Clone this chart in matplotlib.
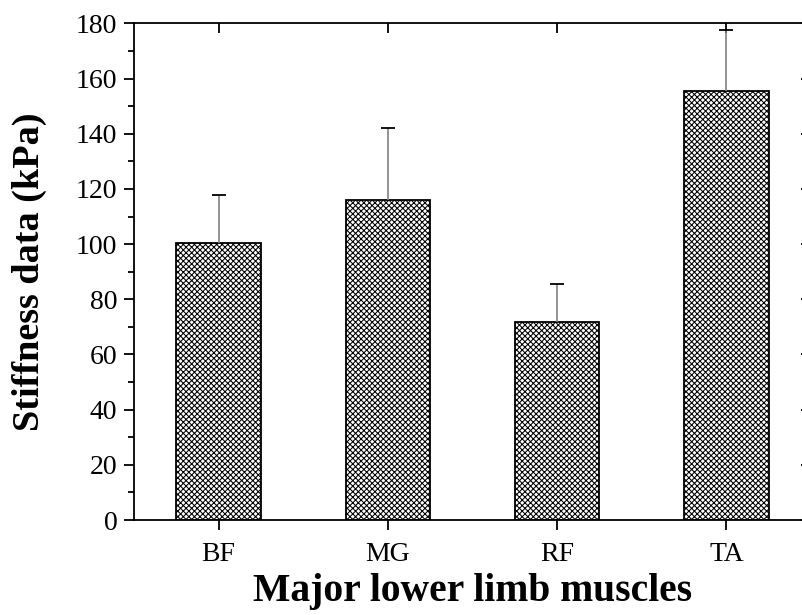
import matplotlib
matplotlib.use("Agg")
import matplotlib.pyplot as plt
from matplotlib.ticker import MultipleLocator

categories = ["BF", "MG", "RF", "TA"]
means = [100.4, 116.1, 71.7, 155.4]
upper = [117.9, 142.2, 85.6, 177.8]
yticks = [0, 20, 40, 60, 80, 100, 120, 140, 160, 180]

plt.rcParams['font.family'] = ['Liberation Serif', 'DejaVu Serif']
plt.rcParams['hatch.linewidth'] = 0.75
plt.rcParams['hatch.color'] = '#404040'

fig = plt.figure(figsize=(8.03, 6.15), dpi=100)
ax = fig.add_axes([134/803, 95/615, (811-134)/803, (520-23.5)/615])

x = list(range(1, len(categories) + 1))
errs = [u - m for u, m in zip(upper, means)]
ax.bar(x, means, width=0.5, color='white', edgecolor='black', linewidth=1.3,
       hatch='xxxxxx', zorder=2)
ax.errorbar(x, means, yerr=[[0]*len(errs), errs], fmt='none', ecolor='#808080',
            elinewidth=1.2, capsize=0, zorder=3)
ax.plot(x, upper, linestyle='none', marker='_', markersize=10, color='black',
        markeredgewidth=1.3, zorder=4)

ax.set_xlim(0.5, 4.5)
ax.set_ylim(0, 180)
ax.set_xticks(x)
ax.set_xticklabels(categories)
ax.set_yticks(yticks)
ax.yaxis.set_minor_locator(MultipleLocator(10))

for s in ax.spines.values():
    s.set_linewidth(1.3)

ax.tick_params(axis='y', which='major', direction='out', length=7, width=1.3,
               labelsize=20, pad=5, right=True)
ax.tick_params(axis='y', which='minor', direction='out', length=4, width=1.3,
               right=False)
ax.tick_params(axis='x', which='major', direction='out', length=7.5, width=1.3,
               labelsize=20, pad=8, top=True)

for t in ax.xaxis.get_major_ticks():
    t.tick2line.set_marker(3)  # inward on top
for t in ax.yaxis.get_major_ticks():
    t.tick2line.set_marker(0)  # inward on right

ax.set_xlabel("Major lower limb muscles", fontsize=28.5, fontweight='bold', labelpad=5)
ax.set_ylabel("Stiffness data (kPa)", fontsize=27.5, fontweight='bold', labelpad=21)

fig.savefig("out.png", dpi=100)
